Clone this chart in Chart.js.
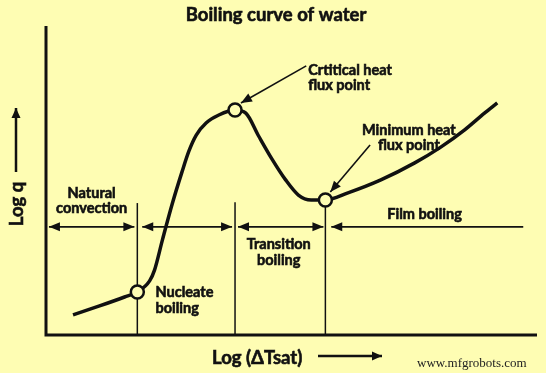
<!DOCTYPE html>
<html>
<head>
<meta charset="utf-8">
<script src="https://cdn.jsdelivr.net/npm/chart.js@4.4.1/dist/chart.umd.min.js"></script>
<style>
  body { margin: 0; background: #FEFDB3; }
  #wrap { width: 546px; height: 373px; }
</style>
</head>
<body>
<div id="wrap"><canvas id="boiling"></canvas></div>
<script>
// boiling curve (x: log dT, y: log q, arbitrary 0-10 units)
var curveX = [0.55, 1.09, 1.60, 1.86, 2.11, 2.21, 2.37, 2.57, 2.77, 2.91, 3.06, 3.26, 3.52, 3.85,
              4.07, 4.33, 4.60, 4.88, 5.14, 5.40, 5.69, 6.15, 6.82, 7.51, 8.04, 8.52, 8.93, 9.19];
var curveY = [0.65, 0.94, 1.23, 1.39, 1.75, 2.10, 3.07, 4.24, 5.28, 5.95, 6.47, 6.86, 7.12, 7.28,
              7.18, 6.44, 5.70, 5.02, 4.53, 4.37, 4.37, 4.60, 5.02, 5.57, 6.08, 6.63, 7.18, 7.51];

// onset of nucleate boiling, critical heat flux, minimum heat flux
var pointNames = ["Onset of nucleate boiling", "Critical heat flux", "Minimum heat flux"];
var pointX = [1.86, 3.85, 5.69];
var pointY = [1.39, 7.28, 4.37];

// region boundaries (vertical lines) and their top ends
var boundX = [1.86, 3.85, 5.69];
var boundTop = [4.27, 4.30, 4.37];

// regime arrows: [from, to]
var regionNames = ["Natural convection", "Nucleate boiling", "Transition boiling", "Film boiling"];
var regionFrom = [0.06, 1.96, 3.91, 9.72];
var regionTo = [1.80, 3.79, 5.65, 5.81];
var regionBothHeads = [true, true, true, false];
var regionArrowY = 3.50;

var bg = "#FEFDB3";
var ink = "#111111";
var font = "Lato, 'Open Sans', sans-serif";

var datasets = [{
    label: "Boiling curve",
    data: curveX.map(function (x, i) { return { x: x, y: curveY[i] }; }),
    showLine: true,
    borderColor: ink,
    borderWidth: 3.5,
    pointRadius: 0,
    cubicInterpolationMode: "monotone",
    clip: false,
    order: 1
}, {
    label: "Points",
    data: pointX.map(function (x, i) { return { x: x, y: pointY[i] }; }),
    showLine: false,
    pointRadius: 6.5,
    pointBorderWidth: 2.5,
    pointBorderColor: ink,
    pointBackgroundColor: bg,
    clip: false,
    order: 0
}];

boundX.forEach(function (x, i) {
    datasets.push({
        label: "bound" + i,
        data: [{ x: x, y: 0 }, { x: x, y: boundTop[i] }],
        showLine: true,
        borderColor: ink,
        borderWidth: 1.5,
        pointRadius: 0,
        clip: false,
        order: 2
    });
});

function arrowHead(ctx, x1, y1, x2, y2, len, half) {
    var a = Math.atan2(y2 - y1, x2 - x1);
    ctx.beginPath();
    ctx.moveTo(x2, y2);
    ctx.lineTo(x2 - len * Math.cos(a) + half * Math.sin(a), y2 - len * Math.sin(a) - half * Math.cos(a));
    ctx.lineTo(x2 - len * Math.cos(a) - half * Math.sin(a), y2 - len * Math.sin(a) + half * Math.cos(a));
    ctx.closePath();
    ctx.fill();
}

function arrow(ctx, x1, y1, x2, y2, lw, len, half, both) {
    ctx.lineWidth = lw;
    ctx.beginPath();
    ctx.moveTo(x1, y1);
    ctx.lineTo(x2, y2);
    ctx.stroke();
    arrowHead(ctx, x1, y1, x2, y2, len, half);
    if (both) arrowHead(ctx, x2, y2, x1, y1, len, half);
}

// heavy text: fill plus a thin stroke (no black weight of the font installed)
function boldText(ctx, t, x, y) {
    ctx.lineWidth = 0.6;
    ctx.strokeText(t, x, y);
    ctx.fillText(t, x, y);
}

// text labels in data units
var labels = [
    { lines: ["Natural", "convection"], x: 0.93, y: [4.60, 4.11], align: "center" },
    { lines: ["Transition", "boiling"], x: 4.74, y: [2.94, 2.43], align: "center" },
    { lines: ["Nucleate", "boiling"], x: 2.23, y: [1.39, 0.87], align: "left" },
    { lines: ["Film boiling"], x: 7.71, y: [3.92], align: "center" },
    { lines: ["Crtitical heat", "flux point"], x: 5.34, y: [8.58, 8.09], align: "left" },
    { lines: ["Minimum heat", "flux point"], x: 7.39, y: [6.63, 6.15], align: "center" }
];
var pointers = [
    { from: [5.30, 8.71], to: [3.97, 7.51] },
    { from: [6.60, 6.15], to: [5.79, 4.63] }
];

var decor = {
    id: "decor",
    beforeDraw: function (chart) {
        var ctx = chart.ctx;
        ctx.save();
        ctx.fillStyle = bg;
        ctx.fillRect(0, 0, chart.width, chart.height);
        ctx.restore();
    },
    afterDatasetsDraw: function (chart) {
        var ctx = chart.ctx, xs = chart.scales.x, ys = chart.scales.y, a = chart.chartArea;
        ctx.save();
        ctx.strokeStyle = ink;
        ctx.fillStyle = ink;

        // axes
        ctx.lineWidth = 3;
        ctx.beginPath();
        ctx.moveTo(a.left, a.top);
        ctx.lineTo(a.left, a.bottom);
        ctx.lineTo(a.right, a.bottom);
        ctx.stroke();

        // regime arrows
        var yy = ys.getPixelForValue(regionArrowY);
        for (var i = 0; i < regionFrom.length; i++) {
            arrow(ctx, xs.getPixelForValue(regionFrom[i]), yy, xs.getPixelForValue(regionTo[i]), yy,
                1.6, 11, 4.5, regionBothHeads[i]);
        }

        // pointer arrows
        pointers.forEach(function (p) {
            arrow(ctx, xs.getPixelForValue(p.from[0]), ys.getPixelForValue(p.from[1]),
                xs.getPixelForValue(p.to[0]), ys.getPixelForValue(p.to[1]), 1.6, 11, 4.5, false);
        });

        // labels
        ctx.font = "bold 14.5px " + font;
        ctx.textBaseline = "middle";
        labels.forEach(function (l) {
            ctx.textAlign = l.align;
            l.lines.forEach(function (t, k) {
                boldText(ctx, t, xs.getPixelForValue(l.x), ys.getPixelForValue(l.y[k]));
            });
        });

        // title
        ctx.textAlign = "center";
        ctx.font = "bold 18.5px " + font;
        boldText(ctx, "Boiling curve of water", 276, 15);

        // x axis title + arrow
        ctx.textAlign = "left";
        boldText(ctx, "Log (\u0394Tsat)", 212, 358);
        arrow(ctx, 318, 356, 382, 356, 2.5, 10, 4.5, false);

        // y axis title + arrow
        ctx.save();
        ctx.translate(17, 204);
        ctx.rotate(-Math.PI / 2);
        ctx.textAlign = "center";
        boldText(ctx, "Log q", 0, 0);
        ctx.restore();
        arrow(ctx, 16, 172, 16, 108, 2.5, 10, 4.5, false);

        // watermark
        ctx.font = "13px 'Liberation Serif', serif";
        ctx.textAlign = "left";
        ctx.fillStyle = "#222";
        ctx.fillText("www.mfgrobots.com", 417, 364);
        ctx.restore();
    }
};

new Chart(document.getElementById("boiling"), {
    type: "scatter",
    data: { datasets: datasets },
    options: {
        responsive: true,
        maintainAspectRatio: false,
        animation: false,
        layout: { padding: { left: 46, right: 6, top: 26, bottom: 38 } },
        plugins: {
            legend: { display: false },
            tooltip: { enabled: false },
            title: { display: false }
        },
        scales: {
            x: { type: "linear", min: 0, max: 10, display: false },
            y: { type: "linear", min: 0, max: 10, display: false }
        }
    },
    plugins: [decor]
});
</script>
</body>
</html>
